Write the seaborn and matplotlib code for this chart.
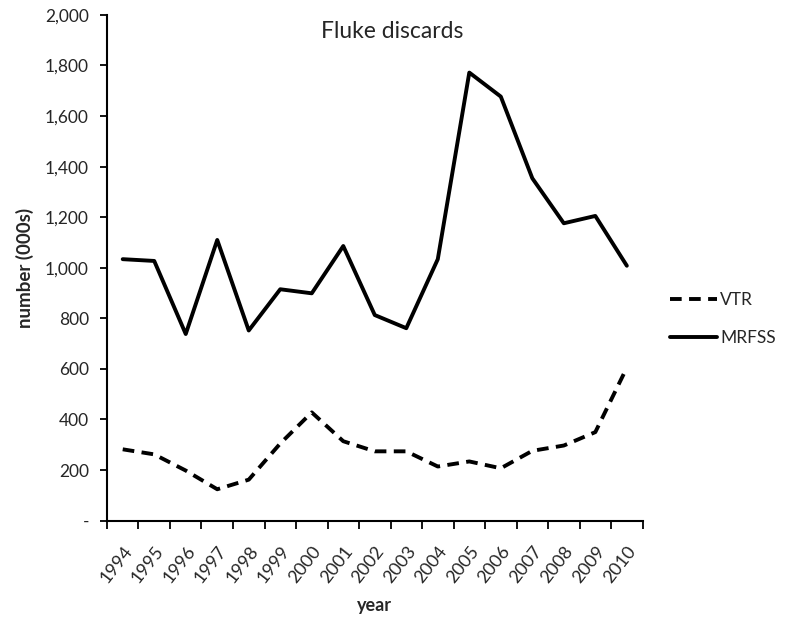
"""
Fluke discards by year: VTR vs MRFSS (numbers in thousands).
"""

import matplotlib
matplotlib.use("Agg")
import matplotlib.pyplot as plt
import matplotlib.ticker as mticker
import seaborn as sns
import pandas as pd

years = list(range(1994, 2011))
vtr = [282, 262, 198, 124, 162, 305, 428, 314, 274, 274, 214, 234, 207, 276, 297, 350, 605]
mrfss = [1034, 1027, 738, 1110, 752, 915, 899, 1086, 813, 761, 1034, 1772, 1677, 1354, 1176, 1205, 1008]

sns.set_theme(style="white")
plt.rcParams["font.family"] = ["Lato", "DejaVu Sans"]


def y_fmt(v, pos):
    if v == 0:
        return "-"
    return f"{v:,.0f}"


df = pd.DataFrame({"year": years, "VTR": vtr, "MRFSS": mrfss})

fig = plt.figure(figsize=(7.9, 6.22), dpi=100)
ax = fig.add_axes([0.1354, 0.163, 0.678, 0.813])

sns.lineplot(data=df, x="year", y="VTR", ax=ax, color="black", linewidth=2.8,
             linestyle=(0, (3.0, 1.9)), label="VTR")
sns.lineplot(data=df, x="year", y="MRFSS", ax=ax, color="black", linewidth=2.8,
             label="MRFSS")

ax.set_xlim(years[0] - 0.5, years[-1] + 0.5)
ax.set_ylim(0, 2000)
ax.yaxis.set_major_locator(mticker.MultipleLocator(200))
ax.yaxis.set_major_formatter(mticker.FuncFormatter(y_fmt))

# labels sit at category centres, tick marks at the boundaries
ax.set_xticks(years)
ax.set_xticklabels([str(y) for y in years], rotation=52, ha="right",
                   rotation_mode="anchor")
ax.set_xticks([y - 0.5 for y in years] + [years[-1] + 0.5], minor=True)
ax.tick_params(axis="x", which="major", length=0, pad=16, labelsize=13)
ax.tick_params(axis="x", which="minor", length=6, width=1.3, color="black",
               bottom=True, direction="out")
ax.tick_params(axis="y", length=5, width=1.3, color="black", left=True,
               direction="out", labelsize=12.5, pad=8)

for side in ["top", "right"]:
    ax.spines[side].set_visible(False)
for side in ["left", "bottom"]:
    ax.spines[side].set_color("black")
    ax.spines[side].set_linewidth(1.5)

ax.set_xlabel("year", fontsize=13, fontweight="bold", labelpad=8)
ax.set_ylabel("number (000s)", fontsize=13.5, fontweight="bold", labelpad=8)
ax.text(0.532, 0.988, "Fluke discards", transform=ax.transAxes, ha="center",
        va="top", fontsize=16.5)

handles, labels = ax.get_legend_handles_labels()
ax.get_legend().remove()
fig.legend(handles, labels, loc="center left", bbox_to_anchor=(0.828, 0.487),
           frameon=False, fontsize=12.5, handlelength=2.75, handletextpad=0.15,
           labelspacing=1.3)

fig.savefig("out.png", dpi=100)
